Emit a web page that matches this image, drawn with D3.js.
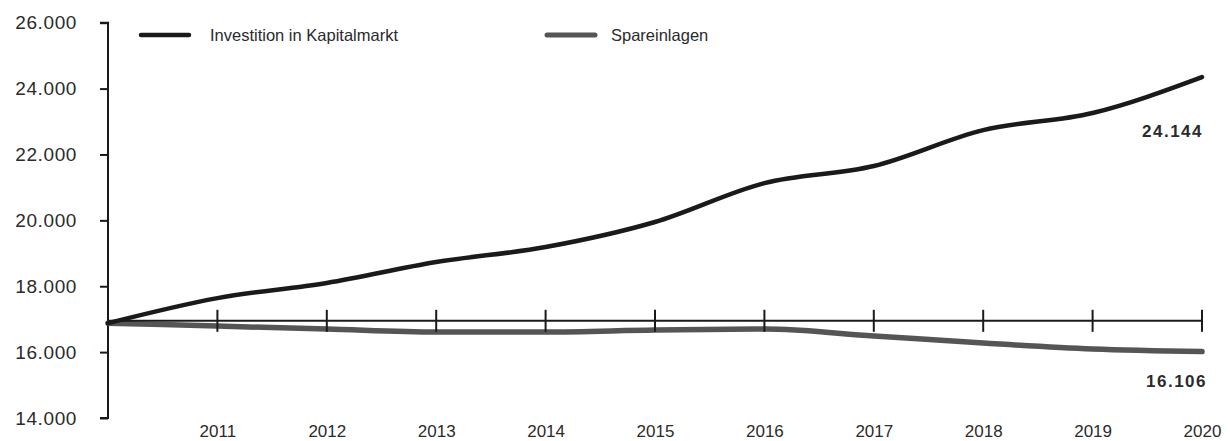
<!DOCTYPE html>
<html>
<head>
<meta charset="utf-8">
<script src="https://cdn.jsdelivr.net/npm/d3@7"></script>
<style>
  html, body { margin: 0; padding: 0; background: #fff; }
  svg { display: block; }
  text { font-family: "Liberation Sans", Arial, Helvetica, sans-serif; fill: #2b2b2b; }
</style>
</head>
<body>
<svg id="chart" width="1230" height="441"></svg>
<script>
const years = [2010, 2011, 2012, 2013, 2014, 2015, 2016, 2017, 2018, 2019, 2020];
const kapitalmarkt = [16880, 17640, 18100, 18735, 19190, 19950, 21130, 21650, 22740, 23260, 24350];
const spareinlagen = [16880, 16790, 16700, 16610, 16610, 16670, 16700, 16490, 16275, 16095, 16015];
const yTicks = [14000, 16000, 18000, 20000, 22000, 24000, 26000];
const xTickYears = [2011, 2012, 2013, 2014, 2015, 2016, 2017, 2018, 2019, 2020];
const referenceValue = 16950;
const seriesNames = ["Investition in Kapitalmarkt", "Spareinlagen"];
const endLabels = ["24.144", "16.106"];

const svg = d3.select("#chart");
const x = d3.scaleLinear().domain([2010, 2020]).range([108, 1202]);
const y = d3.scaleLinear().domain([14000, 26000]).range([418, 22.7]);
const fmt = v => d3.format(",")(v).replace(/,/g, ".");

// y axis
const yAxis = d3.axisLeft(y).tickValues(yTicks).tickFormat(fmt).tickSize(8).tickPadding(23);
const gy = svg.append("g").attr("transform", "translate(108,0)").call(yAxis);
gy.select(".domain").attr("stroke", "#1a1a1a").attr("stroke-width", 2).attr("d", `M-8,${y(26000)}H0V${y(14000)}H-8`);
gy.selectAll(".tick line").attr("stroke", "#1a1a1a").attr("stroke-width", 2);
gy.selectAll(".tick text").attr("font-size", 19).attr("letter-spacing", 0.6).attr("fill", "#2b2b2b")
  .attr("font-family", "'Liberation Sans', Arial, sans-serif");

// x labels
const xAxis = d3.axisBottom(x).tickValues(xTickYears).tickFormat(d3.format("d")).tickSize(0).tickPadding(0);
const gx = svg.append("g").attr("transform", "translate(0,425)").call(xAxis);
gx.select(".domain").remove();
gx.selectAll(".tick text").attr("font-size", 17).attr("fill", "#2b2b2b").attr("dy", "0.72em")
  .attr("font-family", "'Liberation Sans', Arial, sans-serif");

const line = d3.line().x((d, i) => x(years[i])).y(d => y(d)).curve(d3.curveMonotoneX);

// Spareinlagen line
svg.append("path").datum(spareinlagen).attr("d", line)
  .attr("fill", "none").attr("stroke", "#555").attr("stroke-width", 5.5).attr("stroke-linecap", "round");

// reference line with year ticks
svg.append("line").attr("x1", x(2010)).attr("x2", x(2020)).attr("y1", y(referenceValue)).attr("y2", y(referenceValue))
  .attr("stroke", "#1a1a1a").attr("stroke-width", 2);
svg.append("g").selectAll("line").data(xTickYears).join("line")
  .attr("x1", d => x(d)).attr("x2", d => x(d))
  .attr("y1", y(referenceValue) - 11).attr("y2", y(referenceValue) + 11)
  .attr("stroke", "#1a1a1a").attr("stroke-width", 2);

// Kapitalmarkt line
svg.append("path").datum(kapitalmarkt).attr("d", line)
  .attr("fill", "none").attr("stroke", "#1a1a1a").attr("stroke-width", 4.5).attr("stroke-linecap", "round");

// end labels
svg.append("text").attr("x", 1203).attr("y", 137).attr("text-anchor", "end")
  .attr("font-size", 17).attr("font-weight", "bold").attr("letter-spacing", 1.5).text(endLabels[0]);
svg.append("text").attr("x", 1207).attr("y", 387).attr("text-anchor", "end")
  .attr("font-size", 17).attr("font-weight", "bold").attr("letter-spacing", 1.5).text(endLabels[1]);

// legend
const legend = [
  { x: 141, color: "#1a1a1a", w: 4.5, gap: 69 },
  { x: 547, color: "#555", w: 5, gap: 64 }
];
legend.forEach((l, i) => {
  svg.append("line").attr("x1", l.x).attr("x2", l.x + 48).attr("y1", 35).attr("y2", 35)
    .attr("stroke", l.color).attr("stroke-width", l.w).attr("stroke-linecap", "round");
  svg.append("text").attr("x", l.x + l.gap).attr("y", 41).attr("font-size", 16.5).text(seriesNames[i]);
});
</script>
</body>
</html>
